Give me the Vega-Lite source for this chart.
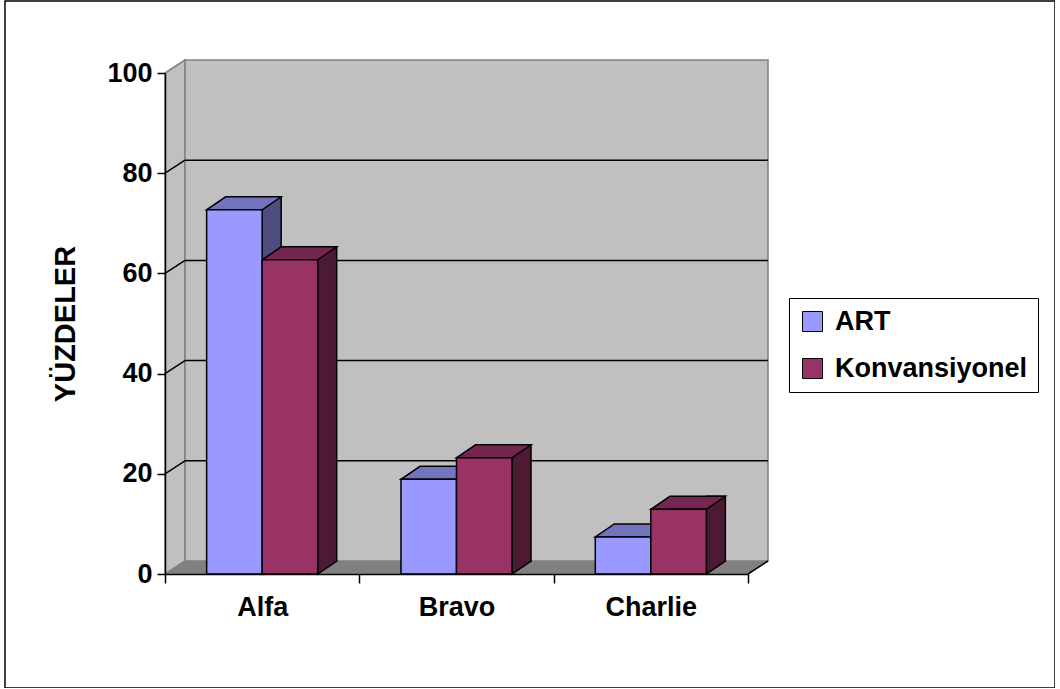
{
  "$schema": "https://vega.github.io/schema/vega-lite/v6.json",
  "autosize": "none",
  "padding": {"left": 5, "top": 1, "right": 0, "bottom": 0},
  "width": 1050,
  "height": 687,
  "background": "white",
  "config": {
    "view": {"stroke": "black", "strokeWidth": 1.5},
    "font": "Liberation Sans"
  },
  "datasets": {
    "oranlar": [
      {"grup": "Alfa", "seri": "ART", "deger": 72.7},
      {"grup": "Alfa", "seri": "Konvansiyonel", "deger": 62.7},
      {"grup": "Bravo", "seri": "ART", "deger": 18.9},
      {"grup": "Bravo", "seri": "Konvansiyonel", "deger": 23.2},
      {"grup": "Charlie", "seri": "ART", "deger": 7.4},
      {"grup": "Charlie", "seri": "Konvansiyonel", "deger": 12.9}
    ]
  },
  "resolve": {"scale": {"x": "independent"}},
  "layer": [
    {
      "data": {"values": [{}]},
      "layer": [
        {
          "mark": {"type": "point", "shape": "M 0 0 L 0 -501 L 20 -514 L 20 -13 Z", "size": 4, "filled": true, "fill": "#c0c0c0", "stroke": "#808080", "strokeWidth": 1.5, "opacity": 1},
          "encoding": {
            "x": {"datum": 0, "type": "quantitative", "scale": {"domain": [0, 3], "range": [160, 743], "nice": false, "zero": false}, "axis": null},
            "y": {"datum": 0, "type": "quantitative", "scale": {"domain": [0, 100], "range": [573, 72], "nice": false}}
          }
        },
        {
          "mark": {"type": "rect", "fill": "#c0c0c0", "stroke": "#808080", "strokeWidth": 1.5, "xOffset": 20, "x2Offset": 20, "yOffset": -13, "y2Offset": -13},
          "encoding": {
            "x": {"datum": 0, "type": "quantitative", "axis": null},
            "x2": {"datum": 3},
            "y": {"datum": 0, "type": "quantitative"},
            "y2": {"datum": 100}
          }
        },
        {
          "data": {"values": [{"v": 20}, {"v": 40}, {"v": 60}, {"v": 80}]},
          "layer": [
            {
              "mark": {"type": "rule", "color": "black", "strokeWidth": 1.5, "xOffset": 20, "x2Offset": 20, "yOffset": -13},
              "encoding": {
                "x": {"datum": 0, "type": "quantitative", "axis": null},
                "x2": {"datum": 3},
                "y": {"field": "v", "type": "quantitative"}
              }
            },
            {
              "mark": {"type": "point", "shape": "M 0 0 L 20 -13", "size": 4, "filled": false, "stroke": "black", "strokeWidth": 1.5, "opacity": 1},
              "encoding": {
                "x": {"datum": 0, "type": "quantitative", "axis": null},
                "y": {"field": "v", "type": "quantitative"}
              }
            }
          ]
        },
        {
          "mark": {"type": "point", "shape": "M 0 0 L 583 0 L 603 -13 L 20 -13 Z", "size": 4, "filled": true, "fill": "#808080", "strokeWidth": 0, "opacity": 1},
          "encoding": {
            "x": {"datum": 0, "type": "quantitative", "axis": null},
            "y": {"datum": 0, "type": "quantitative"}
          }
        },
        {
          "mark": {"type": "point", "shape": "M 0 0 L 20 -13", "size": 4, "filled": false, "stroke": "black", "strokeWidth": 1.5, "opacity": 1},
          "encoding": {
            "x": {"datum": 3, "type": "quantitative", "axis": null},
            "y": {"datum": 0, "type": "quantitative"}
          }
        }
      ]
    },
    {
      "data": {"name": "oranlar"},
      "layer": [
        {
          "transform": [{"filter": "datum.seri == 'ART'"}],
          "mark": {"type": "bar", "width": 19, "xOffset": 9.5, "yOffset": -13, "y2Offset": -13, "fill": "#4d4d80", "stroke": "black", "strokeWidth": 1.5},
          "encoding": {
            "x": {"field": "grup", "type": "nominal", "scale": {"range": [160, 743], "paddingInner": 0, "paddingOuter": 0}},
            "y": {"field": "deger", "type": "quantitative"},
            "y2": {"datum": 0}
          }
        },
        {
          "transform": [{"filter": "datum.seri == 'Konvansiyonel'"}],
          "mark": {"type": "bar", "width": 19, "xOffset": 65, "yOffset": -13, "y2Offset": -13, "fill": "#4d1a33", "stroke": "black", "strokeWidth": 1.5},
          "encoding": {
            "x": {"field": "grup", "type": "nominal"},
            "y": {"field": "deger", "type": "quantitative"},
            "y2": {"datum": 0}
          }
        },
        {
          "mark": {"type": "point", "shape": "M 27.75 -14.5 L 27.75 0 L 46.75 -13 L 46.75 -14.5", "size": 4, "filled": true, "stroke": "black", "strokeWidth": 1.5, "opacity": 1},
          "encoding": {
            "x": {"field": "grup", "type": "nominal"},
            "xOffset": {"field": "seri", "type": "nominal", "scale": {"paddingInner": 0, "paddingOuter": 0.75}},
            "y": {"datum": 0, "type": "quantitative"},
            "fill": {"condition": {"test": "datum.seri == 'ART'", "value": "#4d4d80"}, "value": "#4d1a33"}
          }
        },
        {
          "mark": {"type": "point", "shape": "M -27.75 0 L 27.75 0 L 46.75 -13 L -8.75 -13 Z", "size": 4, "filled": true, "stroke": "black", "strokeWidth": 1.5, "opacity": 1},
          "encoding": {
            "x": {"field": "grup", "type": "nominal"},
            "xOffset": {"field": "seri", "type": "nominal"},
            "y": {"field": "deger", "type": "quantitative"},
            "fill": {"condition": {"test": "datum.seri == 'ART'", "value": "#7373bf"}, "value": "#732650"}
          }
        },
        {
          "mark": {"type": "bar", "stroke": "black", "strokeWidth": 1.5},
          "encoding": {
            "x": {
              "field": "grup", "type": "nominal",
              "axis": {"title": null, "orient": "bottom", "offset": -114, "tickBand": "extent", "grid": false, "zindex": 1,
                       "domainColor": "black", "domainWidth": 1.5, "tickColor": "black", "tickWidth": 1.5, "tickSize": 9,
                       "labelFontSize": 27, "labelFontWeight": "bold", "labelColor": "black", "labelPadding": 24, "labelAngle": 0,
                       "labelAlign": "center"}
            },
            "xOffset": {"field": "seri", "type": "nominal"},
            "y": {
              "field": "deger", "type": "quantitative",
              "scale": {"domain": [0, 100], "range": [573, 72], "nice": false},
              "axis": {"title": "YÜZDELER", "values": [0, 20, 40, 60, 80, 100], "offset": -160, "grid": false, "zindex": 1,
                       "domainColor": "black", "domainWidth": 1.5, "tickColor": "black", "tickWidth": 1.5, "tickSize": 8,
                       "labelFontSize": 27, "labelFontWeight": "bold", "labelColor": "black", "labelPadding": 5,
                       "titleFontSize": 29, "titleFontWeight": "bold", "titleColor": "black", "titlePadding": 26}
            },
            "color": {
              "field": "seri", "type": "nominal",
              "scale": {"domain": ["ART", "Konvansiyonel"], "range": ["#9999ff", "#993366"]},
              "legend": {"title": null, "orient": "none", "legendX": 784, "legendY": 297, "strokeColor": "black", "fillColor": "white",
                         "padding": 10, "labelFontSize": 27, "labelFontWeight": "bold", "labelColor": "black", "labelOffset": 9,
                         "labelLimit": 400, "symbolType": "square", "symbolSize": 400, "symbolStrokeColor": "black", "symbolStrokeWidth": 1,
                         "symbolOpacity": 1, "rowPadding": 19}
            }
          }
        }
      ]
    }
  ]
}
